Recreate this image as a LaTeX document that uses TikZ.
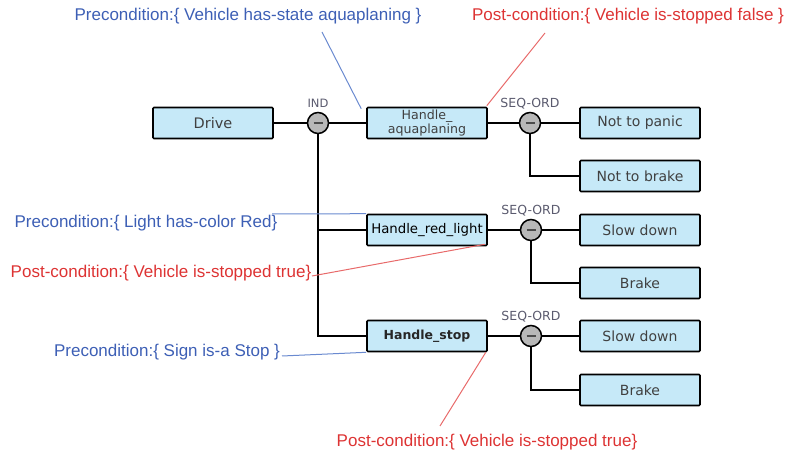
\documentclass[tikz,border=0pt]{standalone}
\usepackage{fontspec}
\setmainfont{Liberation Sans}
\newfontfamily\boxfont{DejaVu Sans}
\definecolor{boxfill}{HTML}{C6E9F8}
\definecolor{pretext}{HTML}{3D5FB5}
\definecolor{preline}{HTML}{6A8AD0}
\definecolor{posttext}{HTML}{DD3333}
\definecolor{postline}{HTML}{E86A6A}
\definecolor{labtext}{HTML}{5A5A6E}
\definecolor{boxtext}{HTML}{404040}
\begin{document}
\begin{tikzpicture}[x=1pt,y=-1pt,
  taskbox/.style={draw=black,line width=1.6pt,fill=boxfill,rounded corners=1pt,minimum width=120pt,minimum height=31pt,inner sep=0pt,font=\boxfont\fontsize{14}{15}\selectfont,text=boxtext,align=center},
  opcirc/.style={circle,draw=black,line width=1.5pt,fill=black!28,minimum size=21pt,inner sep=0pt},
  oplabel/.style={font=\boxfont\fontsize{12.5}{13}\selectfont,text=labtext,anchor=base,inner sep=0pt},
  conn/.style={line width=1.4pt,draw=black},
  pretxt/.style={font=\fontsize{17}{18}\selectfont,text=pretext,inner sep=0pt},
  posttxt/.style={font=\fontsize{17}{18}\selectfont,text=posttext,inner sep=0pt},
  preln/.style={draw=preline,line width=1pt},
  postln/.style={draw=postline,line width=1pt}]
\useasboundingbox (0,0) rectangle (793,454);

% boxes
\node[taskbox,font=\boxfont\fontsize{14.5}{15}\selectfont] (drive) at (213,123) {Drive};
\node[taskbox,font=\boxfont\fontsize{12.6}{14.5}\selectfont] (ha) at (427,123) {Handle\_\\aquaplaning};
\node[taskbox] (np) at (640,123) {Not to panic};
\node[taskbox] (nb) at (640,176) {Not to brake};
\node[taskbox,text=black,font=\boxfont\fontsize{13.3}{14}\selectfont] (hr) at (427,230) {Handle\_red\_light};
\node[taskbox] (sd1) at (640,230) {Slow down};
\node[taskbox] (br1) at (640,283) {Brake};
\node[taskbox,text=black!85,font=\boxfont\bfseries\fontsize{12.5}{13}\selectfont] (hs) at (427,336) {Handle\_stop};
\node[taskbox] (sd2) at (640,336) {Slow down};
\node[taskbox] (br2) at (640,390) {Brake};

% operator circles
\node[opcirc] (ind) at (318,123) {};
\node[opcirc] (s1) at (530,123) {};
\node[opcirc] (s2) at (531,230) {};
\node[opcirc] (s3) at (531,336) {};
\foreach \c in {ind,s1,s2,s3}{
  \draw[line width=1.3pt,black!70] ([xshift=-4.5pt]\c.center) -- ([xshift=4.5pt]\c.center);
}
\node[oplabel,font=\boxfont\fontsize{11.5}{12}\selectfont] (indl) at ([yshift=4pt]ind.north) {IND};
\node[oplabel] (s1l) at ([yshift=4pt]s1.north) {SEQ-ORD};
\node[oplabel] (s2l) at ([yshift=4pt]s2.north) {SEQ-ORD};
\node[oplabel] (s3l) at ([yshift=4pt]s3.north) {SEQ-ORD};

% connectors
\draw[conn] (drive.east) -- (ind.west);
\draw[conn] (ind.east) -- (ha.west);
\draw[conn] (ind.south) |- (hs.west);
\draw[conn] (ind |- hr.west) -- (hr.west);
\draw[conn] (ha.east) -- (s1.west);
\draw[conn] (s1.east) -- (np.west);
\draw[conn] (s1.south) |- (nb.west);
\draw[conn] (hr.east) -- (s2.west);
\draw[conn] (s2.east) -- (sd1.west);
\draw[conn] (s2.south) |- (br1.west);
\draw[conn] (hs.east) -- (s3.west);
\draw[conn] (s3.east) -- (sd2.west);
\draw[conn] (s3.south) |- (br2.west);

% annotations
\node[pretxt] (pre1) at (248,16) {Precondition:\{ Vehicle has-state aquaplaning \}};
\node[posttxt] (post1) at (628,16) {Post-condition:\{ Vehicle is-stopped false \}};
\node[pretxt] (pre2) at (146,223) {Precondition:\{ Light has-color Red\}};
\node[posttxt] (post2) at (161,273) {Post-condition:\{ Vehicle is-stopped true\}};
\node[pretxt] (pre3) at (167,352) {Precondition:\{ Sign is-a Stop \}};
\node[posttxt] (post3) at (487,442) {Post-condition:\{ Vehicle is-stopped true\}};

\coordinate (p1) at (322,32);
\coordinate (q1) at (545,33);
\coordinate (p2) at (272,214);
\coordinate (q2) at (312,276);
\coordinate (p3) at (282,356);
\coordinate (q3) at (440,426);

\draw[preln] (p1) -- ([xshift=-5pt,yshift=-2pt]ha.north west);
\draw[postln] (q1) -- ([xshift=-1pt,yshift=1pt]ha.north east);
\draw[preln] (p2) -- (hr.north west);
\draw[postln] (q2) -- ([xshift=-3pt,yshift=2pt]hr.south east);
\draw[preln] (p3) -- (hs.south west);
\draw[postln] (q3) -- ([xshift=-2pt]hs.south east);
\end{tikzpicture}
\end{document}
